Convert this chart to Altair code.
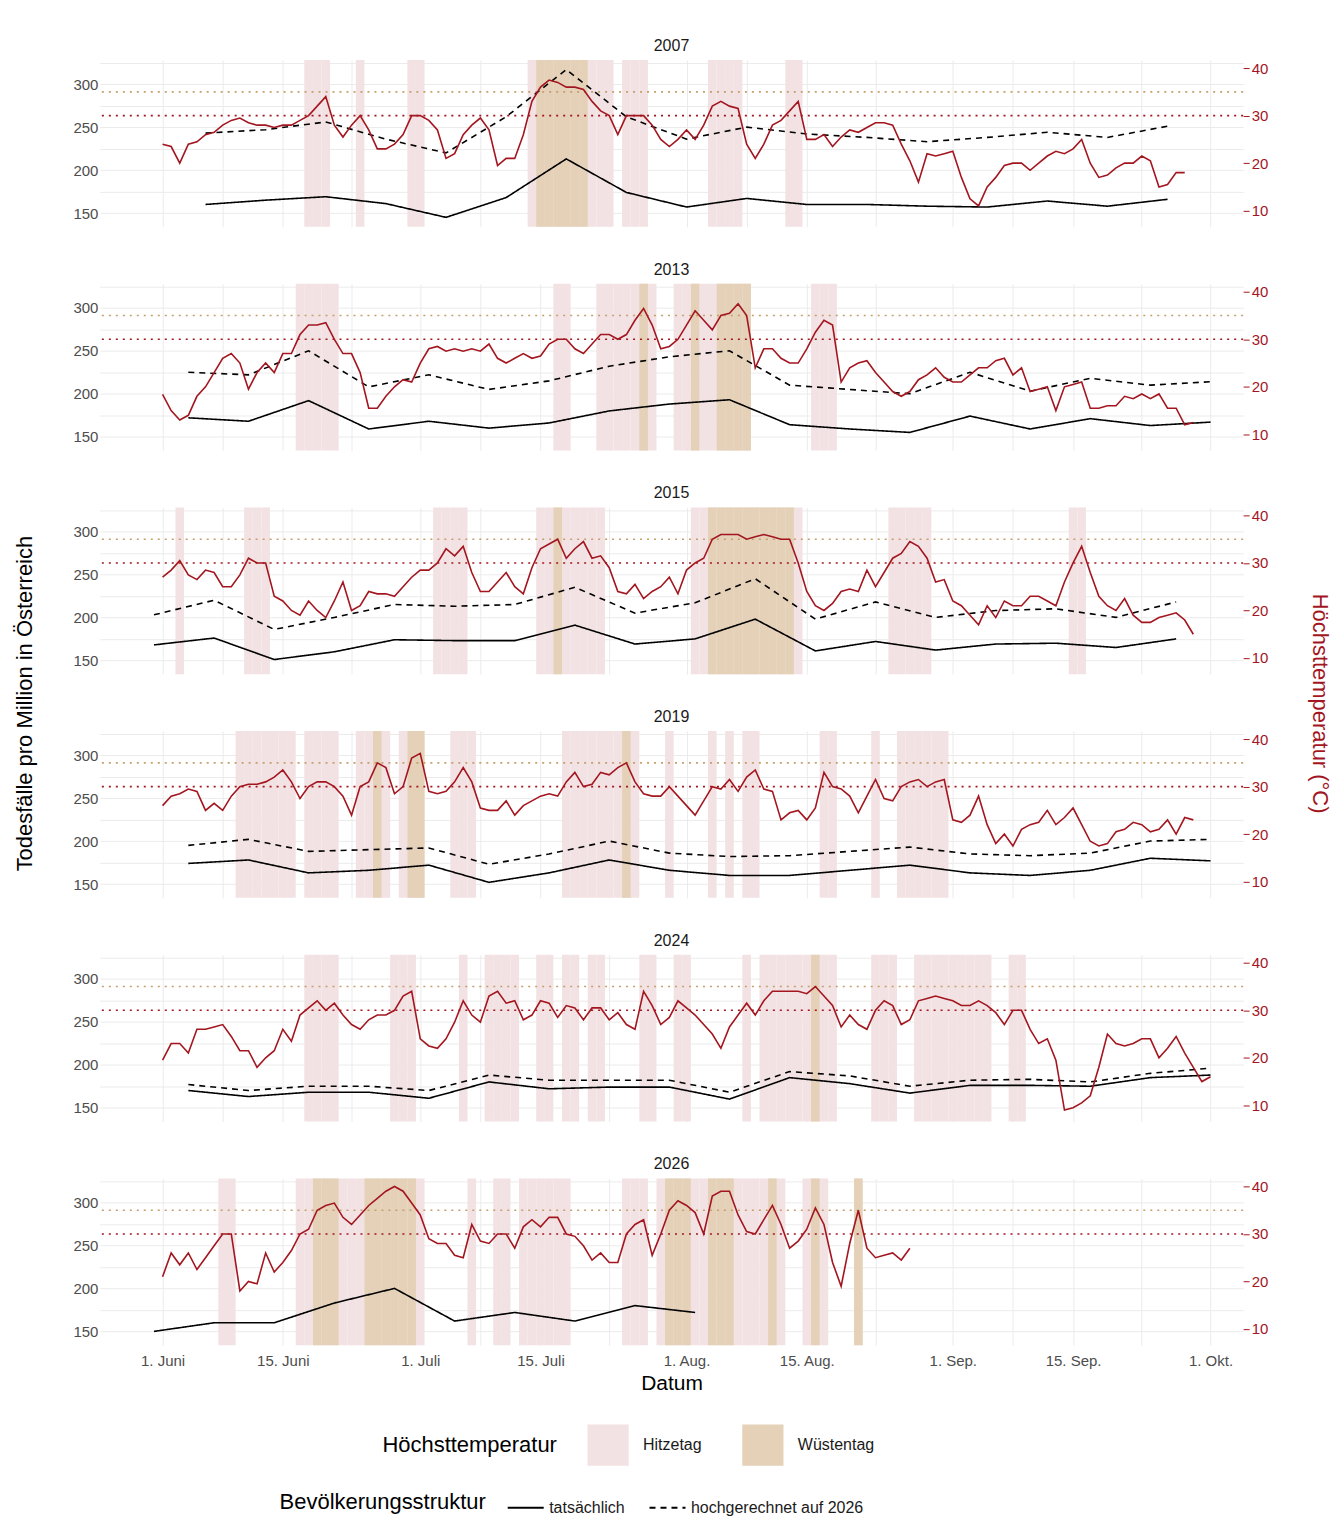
import pandas as pd
import altair as alt

# daily max temperature (°C), from 1 June on
temp_2007 = [24, 23.5, 20, 24, 24.5, 26, 26.5, 28, 29, 29.5,
             28.5, 28, 28, 27.5, 28, 28, 29, 30, 32, 34,
             28, 25.5, 28, 30, 27, 23, 23, 24, 26, 30,
             30, 29, 27, 21, 22, 26, 28, 29.5, 27, 19.5,
             21, 21, 26, 33, 36, 37.5, 37, 36, 36, 35.5,
             33, 31, 30, 26, 30, 30, 30, 28, 25, 23.5,
             25, 27, 25, 28, 32, 33, 32, 31.5, 24, 21,
             24, 28, 29, 31, 33, 25, 25, 26, 23.5, 25.5,
             27, 26.5, 27.5, 28.5, 28.5, 28, 24, 20.5, 16, 22,
             21.5, 22, 22.5, 17, 12.5, 11, 15, 17, 19.5, 20,
             20, 18.5, 20, 21.5, 22.5, 22, 23, 25, 20, 17,
             17.5, 19, 20, 20, 21.5, 20.5, 15, 15.5, 18, 18]
temp_2013 = [18.4, 15, 13, 14, 18, 20, 23, 26, 27, 25,
             19.5, 23, 25, 23, 27, 27, 31, 33, 33, 33.5,
             30, 27, 27, 23, 15.5, 15.5, 18, 20, 21.5, 21,
             25, 28, 28.5, 27.5, 28, 27.5, 28, 27.5, 29, 26,
             25, 26, 27, 26, 26.5, 29, 30, 30, 28, 27,
             29, 31, 31, 30, 31, 34, 36.5, 33, 28, 28.5,
             30, 33, 36, 34, 32, 35, 35.5, 37.5, 35, 24,
             28, 28, 26, 25, 25, 28, 31.5, 34, 33, 21,
             24, 25, 25.5, 23, 21, 19, 18, 19, 21.5, 22.5,
             24, 22, 21, 21, 22.5, 24, 24, 25.5, 26, 22.5,
             24, 19, 19.5, 20, 15, 20, 20.5, 21, 15.5, 15.5,
             16, 16, 18, 17.5, 18.5, 17.5, 18.5, 15.5, 15.5, 12,
             12.5]
temp_2015 = [27, 28.5, 30.5, 27.5, 26.5, 28.5, 28, 25, 25, 27.5,
             31, 30, 30, 23, 22, 20, 19, 22, 20, 18.5,
             22, 26, 20, 21, 24, 23.5, 23.5, 23, 25, 27,
             28.5, 28.5, 30, 33, 31.5, 33.5, 28, 24, 24, 26,
             28, 25, 23.5, 29, 33, 34, 35, 31, 33, 34.5,
             31, 31.5, 29, 24, 23.5, 25.5, 22.5, 24, 25, 27,
             23.5, 28.5, 30, 31, 35, 36, 36, 36, 35, 35.5,
             36, 35.5, 35, 35, 30, 24, 21, 20, 21.5, 24,
             24.5, 24, 28.5, 25, 28, 31, 32, 34.5, 33.5, 31,
             26, 26.5, 22, 21, 19, 17, 21, 18.5, 22, 21,
             21, 23, 23, 22, 21, 26, 30, 33.5, 28, 23,
             21, 20, 22.5, 19, 17.5, 17.5, 18.5, 19, 19.5, 18,
             15]
temp_2019 = [26, 28, 28.5, 29.5, 29, 25, 26.5, 25, 28, 30,
             30.5, 30.5, 31, 32, 33.5, 31, 27.5, 30, 31, 31,
             30, 28, 24, 30, 31, 35, 34, 28.5, 30, 36,
             37, 29, 28.5, 29, 31, 34, 31, 25.5, 25, 25,
             27, 24, 26, 27, 28, 28.5, 28, 31, 33, 30,
             30.5, 33, 32.5, 34, 35, 31, 28.5, 28, 28, 30,
             28, 26, 24, 27, 30, 29.5, 31.5, 29, 32, 33.5,
             29.5, 29, 23, 24.5, 25, 23, 25.5, 33, 30, 29.5,
             28, 24.5, 28, 31.5, 27.5, 27, 30, 31, 31.5, 30,
             31, 31.5, 23, 22.5, 24, 28, 22, 18, 20, 17.5,
             21, 22, 22.5, 25, 22, 23.5, 25.5, 22, 18.5, 17.5,
             18, 20.5, 21, 22.5, 22, 20.5, 21, 23, 20, 23.5,
             23]
temp_2024 = [19.5, 23, 23, 21, 26, 26, 26.5, 27, 24.5, 21.5,
             21.5, 18, 20, 21.5, 26, 23.5, 29, 30.5, 32, 30,
             31.5, 29, 27, 26, 28, 29, 29, 30, 33, 34,
             24, 22.5, 22, 24, 27.5, 32, 29, 27.5, 33, 34,
             31.5, 32, 28, 29, 32, 31.5, 28.5, 31, 30.5, 28,
             30.5, 30.5, 28, 29.5, 27, 26, 34, 31, 27, 28.5,
             32, 30.5, 29, 27, 25, 22, 26.5, 29, 31.5, 29,
             32, 34, 34, 34, 34, 33.5, 35, 33, 31, 26.5,
             29, 27, 26, 30, 32, 31, 27, 28, 32, 32.5,
             33, 32.5, 32, 31, 31, 32, 31, 29.5, 27, 30,
             30, 26, 23, 24, 19.5, 9, 9.5, 10.5, 12, 18,
             25, 23, 22.5, 23, 24, 24, 20, 22, 24.5, 21,
             18, 15, 16]
temp_2026 = [21, 26, 23.5, 26, 22.5, 25, 27.5, 30, 30, 18,
             20, 19.5, 26, 22, 24, 26.5, 30, 31, 35, 36,
             36.5, 33.5, 32, 34, 36, 37.5, 39, 40, 39, 36.5,
             34, 29, 28, 28, 25.5, 25, 32, 28.5, 28, 30,
             30, 27, 31.5, 33, 31.5, 33.5, 33.5, 30, 29.5, 27.5,
             24.5, 26, 24, 24, 30, 32, 33, 25.5, 30, 35,
             37, 36, 34.5, 30, 38, 39, 39, 34, 30.5, 30,
             33, 36, 32, 27, 28.5, 31, 35.5, 32, 24, 19,
             28, 35, 27, 25, 25.5, 26, 24.5, 27]

# weekly deaths per million: first day (relative to 1 June), actual, projected to 2026
years = ["2007", "2013", "2015", "2019", "2024", "2026"]
temps = [temp_2007, temp_2013, temp_2015, temp_2019, temp_2024, temp_2026]
week_start = [5, 3, -1, 3, 3, -1]
deaths_actual = [
    [160, 165, 169, 161, 145, 168, 213, 174, 157, 167, 160, 160, 158, 157, 164, 158, 166],
    [172, 168, 192, 159, 168, 160, 166, 180, 188, 193, 164, 159, 155, 174, 159, 171, 163, 167],
    [168, 176, 151, 160, 174, 173, 173, 191, 169, 175, 198, 161, 172, 162, 169, 170, 165, 175],
    [174, 178, 163, 166, 172, 152, 163, 178, 166, 160, 160, 166, 172, 163, 160, 166, 180, 177],
    [170, 163, 168, 168, 161, 180, 172, 174, 174, 160, 185, 178, 167, 176, 176, 175, 185, 188],
    [150, 160, 160, 183, 200, 162, 172, 162, 180, 172],
]
deaths_projected = [
    [243, 247, 256, 236, 220, 262, 317, 262, 236, 250, 242, 238, 233, 238, 244, 238, 251],
    [225, 222, 250, 208, 222, 205, 215, 232, 243, 250, 210, 205, 200, 225, 203, 218, 210, 214],
    [203, 220, 186, 200, 215, 213, 215, 235, 205, 217, 245, 198, 218, 200, 208, 210, 200, 218],
    [195, 202, 188, 190, 192, 173, 185, 200, 186, 182, 183, 188, 193, 185, 183, 186, 200, 202],
    [177, 170, 175, 175, 170, 188, 182, 182, 182, 168, 192, 187, 175, 182, 183, 180, 190, 196],
    [],
]

tick_days = [0, 14, 30, 44, 61, 75, 92, 106, 122]
tick_labels = ["1. Juni", "15. Juni", "1. Juli", "15. Juli", "1. Aug.", "15. Aug.",
               "1. Sep.", "15. Sep.", "1. Okt."]
minor_days = [7, 22, 37, 52, 68, 83, 99, 114]

RED = "#a3161f"
FONT = "Liberation Sans"
W, H = 1145, 167
xs = alt.Scale(domain=[-7.3, 125.8], nice=False, zero=False)
ys_d = alt.Scale(domain=[134, 328], nice=False, zero=False)
ys_t = alt.Scale(domain=[6.6, 41.7], nice=False, zero=False)

label_expr = " : ".join(
    f"datum.value == {d} ? '{l}'" for d, l in zip(tick_days, tick_labels)) + " : ''"


def panel(i):
    year = years[i]
    last = i == len(years) - 1
    mid = i == 2
    t = pd.DataFrame({"d": range(len(temps[i])), "t": temps[i]})
    hot = t[t.t >= 30].assign(cat="Hitzetag")
    desert = t[t.t >= 35].assign(cat="Wüstentag")
    days = pd.concat([hot, desert])
    days["x0"] = days.d - 0.5
    days["x1"] = days.d + 0.5
    days["o"] = (days.cat == "Wüstentag").astype(int)

    rows = []
    for k, v in enumerate(deaths_actual[i]):
        rows.append({"d": week_start[i] + 7 * k, "v": v, "s": "tatsächlich"})
    for k, v in enumerate(deaths_projected[i]):
        rows.append({"d": week_start[i] + 7 * k, "v": v, "s": "hochgerechnet auf 2026"})
    deaths = pd.DataFrame(rows)

    xaxis = alt.Axis(values=sorted(tick_days + minor_days), labelExpr=label_expr,
                     labels=last, title="Datum" if last else "", ticks=False,
                     domain=False, grid=True, gridColor="#ebebeb", labelFontSize=15,
                     labelColor="#4d4d4d", titleFontSize=21, titleFontWeight="normal",
                     titleColor="black", labelPadding=8)

    rects = alt.Chart(days).mark_rect().encode(
        x=alt.X("x0:Q", scale=xs, axis=xaxis),
        x2="x1:Q",
        order="o:Q",
        color=alt.Color("cat:N", scale=alt.Scale(domain=["Hitzetag", "Wüstentag"],
                                                 range=["#f2e2e3", "#e4d1b8"]),
                        legend=alt.Legend(title="Höchsttemperatur", orient="none",
                                          legendX=283, legendY=1366,
                                          direction="horizontal", titleOrient="left",
                                          symbolType="square", symbolSize=1700,
                                          symbolStrokeWidth=0, titleFontSize=22,
                                          titleFontWeight="normal", labelFontSize=16,
                                          titleColor="black", labelColor="#1a1a1a",
                                          columnPadding=40, labelOffset=14,
                                          titlePadding=30, titleLimit=400)),
    )
    thr = pd.DataFrame({"t": [30, 35], "c": [RED, "#c4a06d"]})
    rules = alt.Chart(thr).mark_rule(strokeDash=[2, 5], strokeWidth=1.6).encode(
        y=alt.Y("t:Q", scale=ys_t, axis=None),
        color=alt.Color("c:N", scale=None),
    )
    dlines = alt.Chart(deaths).mark_line(color="black", strokeWidth=1.6).encode(
        x=alt.X("d:Q", scale=xs),
        y=alt.Y("v:Q", scale=ys_d,
                axis=alt.Axis(values=[150, 175, 200, 225, 250, 275, 300, 325],
                              labelExpr="datum.value % 50 == 0 ? datum.value : ''",
                              ticks=False, domain=False, grid=True, gridColor="#ebebeb",
                              labelFontSize=15, labelColor="#4d4d4d",
                              title="Todesfälle pro Million in Österreich" if mid else "",
                              titleFontSize=22, titleFontWeight="normal",
                              titleColor="black", titleY=196, titlePadding=36)),
        strokeDash=alt.StrokeDash(
            "s:N",
            scale=alt.Scale(domain=["tatsächlich", "hochgerechnet auf 2026"],
                            range=[[1, 0], [6, 5]]),
            legend=alt.Legend(title="Bevölkerungsstruktur", orient="none",
                              legendX=180, legendY=1430, direction="horizontal",
                              titleOrient="left", symbolType="stroke",
                              symbolSize=1300, symbolStrokeWidth=2,
                              symbolStrokeColor="black", titleFontSize=22,
                              titleFontWeight="normal", labelFontSize=16,
                              titleColor="black", labelColor="#1a1a1a",
                              columnPadding=20, titlePadding=20, titleLimit=400,
                              labelLimit=400)),
    )
    tline = alt.Chart(t).mark_line(color=RED, strokeWidth=1.6).encode(
        x=alt.X("d:Q", scale=xs),
        y=alt.Y("t:Q", scale=ys_t,
                axis=alt.Axis(orient="right", values=[10, 20, 30, 40], grid=False,
                              tickColor=RED, tickSize=6, domain=False,
                              labelColor=RED, labelFontSize=15,
                              title="Höchsttemperatur (°C)" if mid else "",
                              titleColor=RED, titleFontSize=22,
                              titleFontWeight="normal", titleY=196, titlePadding=40)),
    )
    return alt.layer(rects, rules, dlines, tline).resolve_scale(y="independent").properties(
        width=W, height=H,
        title=alt.TitleParams(year, fontSize=16, fontWeight="normal", color="#1a1a1a",
                              anchor="middle", offset=6),
    )


chart = alt.vconcat(*[panel(i) for i in range(len(years))], spacing=57,
                    bounds="flush").properties(
    padding={"left": 5, "top": 29, "right": 5, "bottom": 5}
).configure(font=FONT).configure_view(strokeWidth=0)

chart.save("out.html", embed_options={"renderer": "svg", "actions": False})
